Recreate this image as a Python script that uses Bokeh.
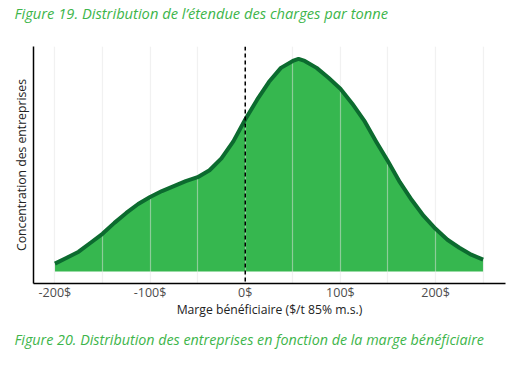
from bokeh.plotting import figure
from bokeh.models import Range1d, FixedTicker, Span, Title
from bokeh.embed import file_html
from bokeh.resources import INLINE

# Data (margin in $/t, relative concentration)
marge = [-200, -187.5, -175, -162.5, -150, -137.5, -125, -112.5, -100, -87.5,
         -75, -62.5, -50, -37.5, -25, -12.5, 0, 12.5, 25, 37.5,
         50, 56, 62.5, 75, 87.5, 100, 112.5, 125, 137.5, 150,
         162.5, 175, 187.5, 200, 212.5, 225, 237.5, 250]
concentration = [8, 14, 20, 29, 38, 49, 59, 68, 75, 81,
                 86, 91, 95, 102, 114, 131, 153, 173, 191, 205,
                 212, 214, 212, 205, 195, 184, 169, 152, 131, 111,
                 90, 72, 56, 43, 32, 24, 17, 12]
tick_values = [-200, -100, 0, 100, 200]
tick_labels = ["-200$", "-100$", "0$", "100$", "200$"]
grid_values = [-200, -150, -100, -50, 0, 50, 100, 150, 200, 250]

title_top = "Figure 19. Distribution de l\u2019\u00e9tendue des charges par tonne"
title_bottom = "Figure 20. Distribution des entreprises en fonction de la marge b\u00e9n\u00e9ficiaire"
FONT = "Open Sans"
GREEN_TXT = "#3db54a"

p = figure(width=515, height=362, output_backend="svg", toolbar_location=None,
           x_range=Range1d(-222.5, 273.5), y_range=Range1d(-12, 226.5),
           min_border_left=33, min_border_right=10, min_border_top=45,
           min_border_bottom=79)
p.outline_line_color = None
p.background_fill_color = "white"

# area fill (below grid), grid, then outline
area = p.varea(x=marge, y1=0, y2=concentration, fill_color="#36b74f", level="image")
p.line(x=marge, y=concentration, line_color="#0c6b2f", line_width=4,
       line_join="round")

p.add_layout(Span(location=0, dimension="height", line_color="black",
                  line_width=1.5, line_dash="4 3"))

p.ygrid.visible = False
p.xgrid.ticker = FixedTicker(ticks=grid_values)
p.xgrid.grid_line_color = "#e3e3e3"
p.xgrid.grid_line_alpha = 0.5
p.xgrid.grid_line_width = 1.2

xa = p.xaxis[0]
xa.ticker = FixedTicker(ticks=tick_values)
xa.major_label_overrides = {v: l for v, l in zip(tick_values, tick_labels)}
xa.axis_line_color = "black"
xa.axis_line_width = 1.5
xa.major_tick_in = 0
xa.major_tick_out = 0
xa.major_tick_line_color = None
xa.minor_tick_line_color = None
xa.major_label_text_font = FONT
xa.major_label_text_font_size = "12.5px"
xa.major_label_text_color = "#4d4d4d"
xa.major_label_standoff = 0
xa.axis_label = "Marge b\u00e9n\u00e9ficiaire ($/t 85% m.s.)"
xa.axis_label_text_font = FONT
xa.axis_label_text_font_size = "12.2px"
xa.axis_label_text_font_style = "normal"
xa.axis_label_text_color = "#222222"
xa.axis_label_standoff = -3

ya = p.yaxis[0]
ya.ticker = FixedTicker(ticks=[])
ya.axis_line_color = "black"
ya.axis_line_width = 1.5
ya.major_tick_line_color = None
ya.minor_tick_line_color = None
ya.axis_label = "Concentration des entreprises"
ya.axis_label_text_font = FONT
ya.axis_label_text_font_size = "12.2px"
ya.axis_label_text_font_style = "normal"
ya.axis_label_text_color = "#222222"
ya.axis_label_standoff = 4

spacer = Title(text=" ", text_font_size="10px", standoff=11)
p.add_layout(spacer, "above")
t1 = Title(text=title_top, align="left", offset=-19, text_font=FONT,
           text_font_size="14.7px", text_font_style="italic", text_color=GREEN_TXT,
           standoff=0)
p.add_layout(t1, "above")
t2 = Title(text=title_bottom, align="left", offset=-19, text_font=FONT,
           text_font_size="14.3px", text_font_style="italic", text_color=GREEN_TXT,
           standoff=14)
p.add_layout(t2, "below")

open("out.html", "w").write(file_html(p, INLINE))
